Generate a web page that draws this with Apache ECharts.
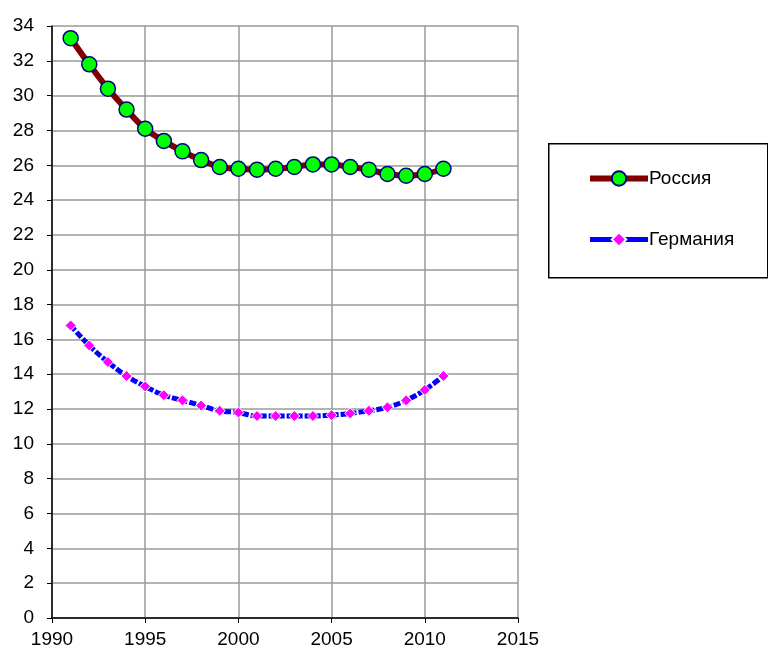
<!DOCTYPE html>
<html>
<head>
<meta charset="utf-8">
<script src="https://cdn.jsdelivr.net/npm/echarts@6/dist/echarts.min.js"></script>
<style>
  html, body { margin: 0; padding: 0; background: #fff; }
  #chart { width: 768px; height: 655px; }
</style>
</head>
<body>
<div id="chart"></div>
<script>
// Years on the horizontal axis
const years = [1991, 1992, 1993, 1994, 1995, 1996, 1997, 1998, 1999, 2000,
               2001, 2002, 2003, 2004, 2005, 2006, 2007, 2008, 2009, 2010, 2011];

// Series values
const russia = [33.3, 31.8, 30.4, 29.2, 28.1, 27.4, 26.8, 26.3, 25.9, 25.8,
                25.75, 25.8, 25.9, 26.05, 26.05, 25.9, 25.75, 25.5, 25.4, 25.5, 25.8];
const germany = [16.8, 15.65, 14.7, 13.9, 13.3, 12.8, 12.5, 12.2, 11.9, 11.8,
                 11.6, 11.6, 11.6, 11.6, 11.65, 11.75, 11.9, 12.1, 12.5, 13.1, 13.9];

const seriesNames = ['Россия', 'Германия'];

const FONT = '"Liberation Sans", Arial, sans-serif';

const chart = echarts.init(document.getElementById('chart'));

const pairs = (xs, ys) => xs.map((x, i) => [x, ys[i]]);

chart.setOption({
  animation: false,
  backgroundColor: '#fff',
  textStyle: { fontFamily: FONT },
  grid: { left: 52, top: 26, width: 466, height: 592, containLabel: false },
  xAxis: {
    type: 'value',
    min: 1990, max: 2015, interval: 5,
    axisLine: { show: true, onZero: false, lineStyle: { color: '#000', width: 1.5 } },
    axisTick: { show: true, length: 5, lineStyle: { color: '#000' } },
    axisLabel: { color: '#000', fontSize: 19, fontFamily: FONT, margin: 12,
                 formatter: v => String(v) },
    splitLine: { show: true, lineStyle: { color: '#9a9a9a', width: 1.5 } }
  },
  yAxis: {
    type: 'value',
    min: 0, max: 34, interval: 2,
    axisLine: { show: true, onZero: false, lineStyle: { color: '#000', width: 1.5 } },
    axisTick: { show: true, length: 5, lineStyle: { color: '#000' } },
    axisLabel: { color: '#000', fontSize: 19, fontFamily: FONT, margin: 18 },
    splitLine: { show: true, lineStyle: { color: '#9a9a9a', width: 1.5 } }
  },
  graphic: [{
    type: 'rect',
    left: 548, top: 143,
    shape: { width: 219, height: 134 },
    style: { fill: '#fff', stroke: '#000', lineWidth: 1.5 },
    z: 0
  }],
  legend: {
    orient: 'vertical',
    left: 587, top: 169,
    itemWidth: 58, itemHeight: 18, itemGap: 42,
    padding: 0,
    data: [
      { name: seriesNames[0], lineStyle: { width: 6 } },
      { name: seriesNames[1], lineStyle: { width: 5, type: 'solid' } }
    ],
    textStyle: { color: '#000', fontSize: 19, fontFamily: FONT, lineHeight: 18, padding: [0, 0, 0, -4] },
    z: 5
  },
  series: [
    {
      name: seriesNames[0],
      type: 'line',
      data: pairs(years, russia),
      smooth: 0.4,
      lineStyle: { color: '#800000', width: 6 },
      symbol: 'circle', symbolSize: 15,
      itemStyle: { color: '#00ff00', borderColor: '#000080', borderWidth: 1.5 },
      z: 3
    },
    {
      name: seriesNames[1],
      type: 'line',
      data: pairs(years, germany),
      smooth: 0.4,
      lineStyle: { color: '#0000ff', width: 5, type: [7, 2] },
      symbol: 'diamond', symbolSize: 11,
      itemStyle: { color: '#ff00ff', borderColor: '#ffffff', borderWidth: 1 },
      z: 3
    }
  ]
});
</script>
</body>
</html>
